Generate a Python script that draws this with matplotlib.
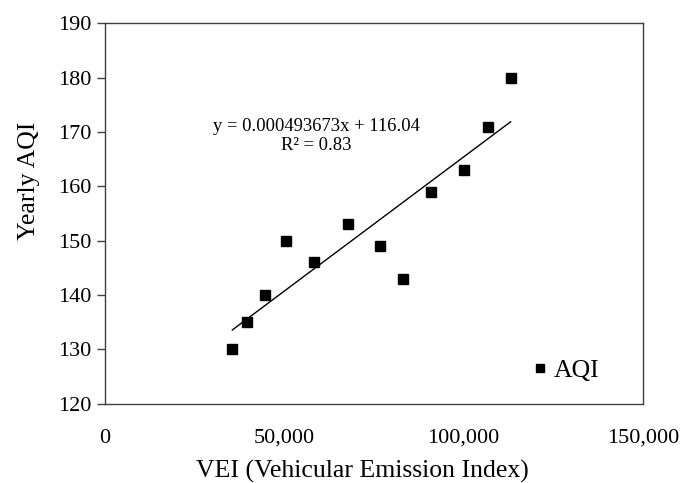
import numpy as np
import matplotlib
matplotlib.use('Agg')
import matplotlib.pyplot as plt
from matplotlib.ticker import FuncFormatter

plt.rcParams['font.family'] = ['Liberation Serif', 'DejaVu Serif']

# data
vei = [35500, 39700, 44600, 50400, 58200, 67800, 76700, 83100, 90900, 100100, 106700, 113100]
aqi = [130, 135, 140, 150, 146, 153, 149, 143, 159, 163, 171, 180]
slope = 0.000493673
intercept = 116.04
eq_text = 'y = 0.000493673x + 116.04\nR² = 0.83'

fig = plt.figure(figsize=(6.83, 4.83), dpi=100)
ax = fig.add_axes([0.1537, 0.1642, 0.7877, 0.7876])

ax.plot(vei, aqi, 's', color='black', markersize=7, label='AQI')

# linear trendline over the data range
xl = np.array([min(vei), max(vei)])
ax.plot(xl, slope * xl + intercept, color='black', lw=1)

ax.text(59000, 169.3, eq_text, ha='center', va='center', fontsize=13.4, linespacing=1.15)

ax.set_xlim(0, 150000)
ax.set_ylim(120, 190)
ax.set_xticks([0, 50000, 100000, 150000])
ax.set_yticks(range(120, 191, 10))
ax.xaxis.set_major_formatter(FuncFormatter(lambda v, p: f'{int(v):,}'))
ax.tick_params(axis='x', length=0, labelsize=16, pad=18)
ax.tick_params(axis='y', length=6, width=1, color='#404040', labelsize=16, pad=4)

for s in ax.spines.values():
    s.set_color('#404040')
    s.set_linewidth(1)

ax.set_xlabel('VEI (Vehicular Emission Index)', fontsize=18.5)
ax.xaxis.set_label_coords(0.478, -0.147)
ax.set_ylabel('Yearly AQI', fontsize=18.5)
ax.yaxis.set_label_coords(-0.12, 0.585)

ax.legend(loc='center left', bbox_to_anchor=(0.796, 0.086), frameon=False,
          fontsize=18.5, handlelength=0.5, handletextpad=0.3, markerscale=0.75,
          borderpad=0, borderaxespad=0)

fig.savefig('out.png', dpi=100)
